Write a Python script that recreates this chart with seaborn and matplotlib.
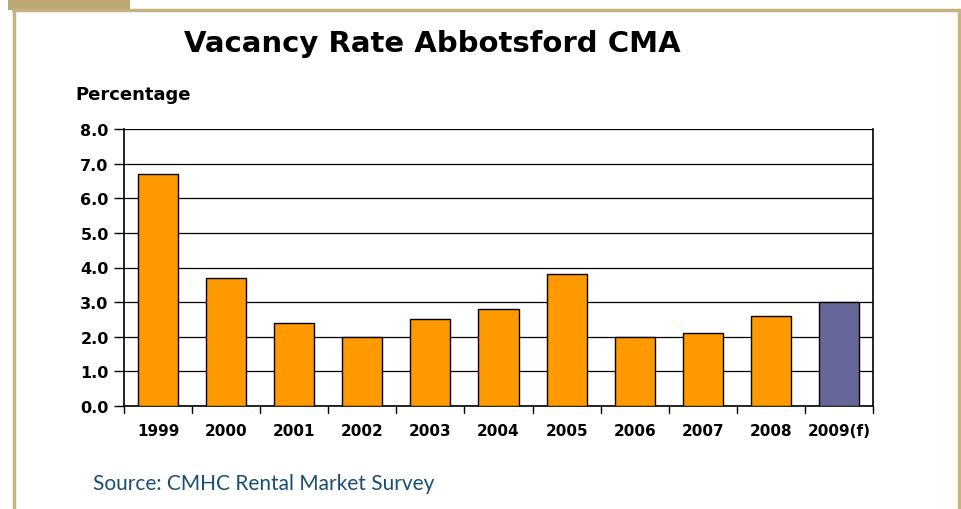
import matplotlib
matplotlib.use("Agg")
import matplotlib.pyplot as plt
import seaborn as sns
import pandas as pd
from matplotlib.patches import Rectangle
from matplotlib.lines import Line2D

years = ["1999", "2000", "2001", "2002", "2003", "2004", "2005", "2006", "2007", "2008", "2009(f)"]
vacancy = [6.7, 3.7, 2.4, 2.0, 2.5, 2.8, 3.8, 2.0, 2.1, 2.6, 3.0]
bar_colors = ["#FF9900"] * 10 + ["#666699"]
yticks = [0.0, 1.0, 2.0, 3.0, 4.0, 5.0, 6.0, 7.0, 8.0]

sns.set_theme(style="white")
plt.rcParams["font.family"] = ["DejaVu Sans"]

W, H = 962, 510
fig = plt.figure(figsize=(W / 100, H / 100), dpi=100)
fig.patch.set_facecolor("white")

gold = "#C5B482"
# frame decorations
fig.add_artist(Rectangle((8 / W, 1 - 11 / H), 122 / W, 11 / H, transform=fig.transFigure,
                         facecolor="#BBA772", edgecolor="none"))
fig.add_artist(Line2D([13 / W, 960 / W], [1 - 11 / H, 1 - 11 / H], transform=fig.transFigure,
                      color=gold, lw=2.5))
fig.add_artist(Line2D([14 / W, 14 / W], [0, 1 - 11 / H], transform=fig.transFigure,
                      color=gold, lw=2.5))
fig.add_artist(Line2D([959 / W, 959 / W], [0, 1 - 11 / H], transform=fig.transFigure,
                      color=gold, lw=2.5))

ax = fig.add_axes([124 / W, 1 - 407 / H, (873 - 124) / W, (407 - 130) / H])
df = pd.DataFrame({"year": years, "rate": vacancy})
sns.barplot(data=df, x="year", y="rate", hue="year", palette=bar_colors, legend=False,
            width=0.59, edgecolor="black", linewidth=1.0, saturation=1, ax=ax, zorder=3)

ax.set_ylim(0, 8)
ax.set_xlim(-0.5, len(years) - 0.5)
ax.set_yticks(yticks)
ax.set_yticklabels([f"{v:.1f}" for v in yticks], fontsize=11.5, fontweight="bold", color="black")
ax.set_xticks(range(len(years)))
ax.set_xticklabels(years, fontsize=11, fontweight="bold", color="black")
ax.tick_params(axis="x", length=0, pad=12)
ax.tick_params(axis="y", length=7, width=1, color="black", left=True, pad=4)
for v in yticks:
    ax.axhline(v, color="black", lw=0.9, zorder=1)
# category boundary ticks
for b in [i - 0.5 for i in range(len(years) + 1)]:
    ax.plot([b, b], [0, -0.2], color="black", lw=1, clip_on=False, zorder=4)
ax.set_xlabel("")
ax.set_ylabel("")
for side in ["left", "right", "bottom"]:
    ax.spines[side].set_visible(True)
    ax.spines[side].set_color("black")
    ax.spines[side].set_linewidth(1.2)
ax.spines["top"].set_visible(False)
ax.set_facecolor("white")

fig.text(432 / W, 1 - 44 / H, "Vacancy Rate Abbotsford CMA", ha="center", va="center",
         fontsize=21, fontweight="bold", color="black")
fig.text(75 / W, 1 - 95 / H, "Percentage", ha="left", va="center",
         fontsize=13, fontweight="bold", color="black")
fig.text(93 / W, 1 - 484 / H, "Source: CMHC Rental Market Survey", ha="left", va="center",
         fontsize=15, color="#1A4E72", family=["Lato", "DejaVu Sans"])

fig.savefig("out.png", dpi=100)
